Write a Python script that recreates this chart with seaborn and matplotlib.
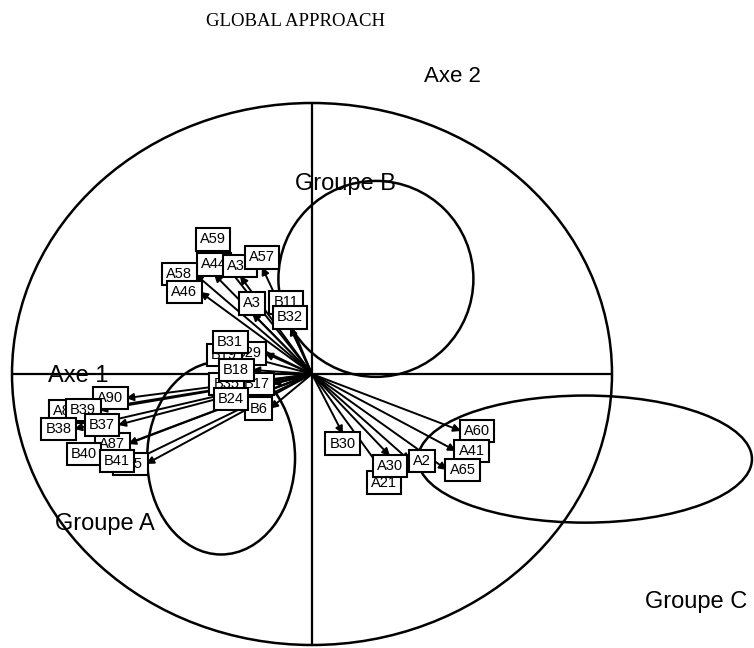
import pandas as pd
import seaborn as sns
import matplotlib.pyplot as plt
from matplotlib.patches import Ellipse

names = ["A44", "A59", "A36", "A57", "A58", "A46", "B11", "A3", "B32",
         "B29", "B19", "B31", "B17", "B35", "B18", "B6", "B24",
         "A89", "A90", "B39", "B38", "A87", "B37", "A85", "B40", "B41",
         "B30", "A21", "A30", "A2", "A60", "A41", "A65"]
axe1 = [-0.327, -0.330, -0.240, -0.167, -0.390, -0.373, -0.087, -0.200, -0.073,
        -0.157, -0.240, -0.220, -0.133, -0.233, -0.200, -0.140, -0.217,
        -0.767, -0.620, -0.710, -0.793, -0.613, -0.647, -0.553, -0.707, -0.597,
        0.103, 0.240, 0.260, 0.327, 0.497, 0.480, 0.450]
axe2 = [0.369, 0.461, 0.362, 0.395, 0.369, 0.303, 0.229, 0.225, 0.173,
        0.077, 0.070, 0.118, -0.037, -0.037, 0.015, -0.128, -0.092,
        -0.137, -0.089, -0.133, -0.203, -0.258, -0.188, -0.332, -0.295, -0.321,
        -0.221, -0.365, -0.303, -0.321, -0.210, -0.284, -0.354]

# group ellipses: centre x, centre y, width, height
groups = ["Groupe A", "Groupe B", "Groupe C"]
grp_x = [-0.303, 0.213, 0.910]
grp_y = [-0.310, 0.351, -0.314]
grp_w = [0.493, 0.650, 1.113]
grp_h = [0.712, 0.723, 0.469]
grp_lab_x = [-0.690, 0.110, 1.280]
grp_lab_y = [-0.553, 0.701, -0.841]

df = pd.DataFrame({"name": names, "x": axe1, "y": axe2})

sns.set_theme(style="white")
plt.rcParams["font.family"] = ["Liberation Sans", "DejaVu Sans"]
plt.rcParams["text.color"] = "black"

fig = plt.figure(figsize=(7.54, 6.48), dpi=100)
ax = fig.add_axes([12 / 754, 3 / 648, 600 / 754, 542 / 648])

sns.scatterplot(data=df, x="x", y="y", s=2, color="black", legend=False, ax=ax)
ax.set_xlim(-1, 1)
ax.set_ylim(-1, 1)
ax.axis("off")

# correlation circle and axes
ax.add_patch(Ellipse((0, 0), 2, 2, fill=False, ec="black", lw=1.8, clip_on=False))
ax.plot([-1, 1], [0, 0], color="black", lw=1.6, clip_on=False)
ax.plot([0, 0], [-1, 1], color="black", lw=1.6, clip_on=False)

for i in range(len(groups)):
    ax.add_patch(Ellipse((grp_x[i], grp_y[i]), grp_w[i], grp_h[i], fill=False,
                         ec="black", lw=1.8, clip_on=False))
    ax.text(grp_lab_x[i], grp_lab_y[i], groups[i], fontsize=17, ha="center",
            va="center", clip_on=False)

ax.text(0.467, 1.096, "Axe 2", fontsize=16, ha="center", va="center", clip_on=False)
ax.text(-0.78, -0.007, "Axe 1", fontsize=17, ha="center", va="center", clip_on=False)

for _, r in df.iterrows():
    ax.annotate("", xy=(r.x, r.y), xytext=(0, 0),
                arrowprops=dict(arrowstyle="-|>", color="black", lw=1.4,
                                mutation_scale=11, shrinkA=0, shrinkB=0))

# labels placed outside the arrow tip, as ade4 s.arrow does
for k, r in df.iterrows():
    x, y = r.x, r.y
    if x > y and x > -y:
        ha, va, off = "left", "center", (2, 0)
    elif x > y:
        ha, va, off = "center", "top", (0, -2)
    elif x <= -y:
        ha, va, off = "right", "center", (-2, 0)
    else:
        ha, va, off = "center", "bottom", (0, 2)
    ax.annotate(r["name"], xy=(x, y), xytext=off, textcoords="offset points",
                ha=ha, va=va, fontsize=10.5, zorder=10 + k,
                bbox=dict(boxstyle="square,pad=0.3", fc="white", ec="black", lw=1.5))

fig.text(295 / 754, 1 - 22 / 648, "GLOBAL APPROACH", fontsize=13.5, ha="center",
         va="center", family=["Liberation Serif", "DejaVu Serif"])

fig.savefig("out.png", dpi=100, facecolor="white")
